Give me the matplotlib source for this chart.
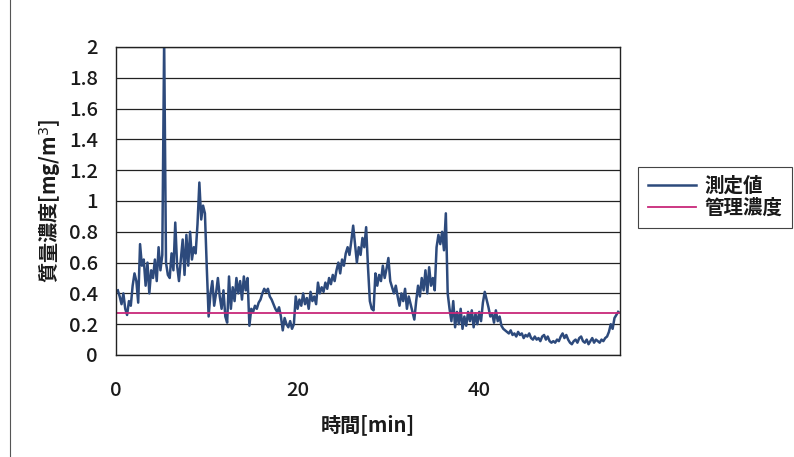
import numpy as np
import matplotlib
matplotlib.use('Agg')
import matplotlib.pyplot as plt
from matplotlib.lines import Line2D

plt.rcParams['font.family'] = ['Noto Sans CJK JP', 'DejaVu Sans']

conc = [
    0.42, 0.38, 0.33, 0.40, 0.30,
    0.26, 0.35, 0.32, 0.45, 0.53,
    0.48, 0.34, 0.72, 0.58, 0.62,
    0.45, 0.60, 0.40, 0.55, 0.50,
    0.62, 0.48, 0.70, 0.55, 0.65,
    2.05, 0.60, 0.52, 0.50, 0.66,
    0.55, 0.86, 0.58, 0.48, 0.62,
    0.75, 0.52, 0.78, 0.58, 0.80,
    0.62, 0.70, 0.66, 0.85, 1.12,
    0.88, 0.97, 0.92, 0.57, 0.25,
    0.40, 0.48, 0.32, 0.40, 0.50,
    0.38, 0.30, 0.42, 0.25, 0.21,
    0.51, 0.30, 0.44, 0.35, 0.50,
    0.40, 0.48, 0.36, 0.51, 0.42,
    0.50, 0.19, 0.30, 0.28, 0.32,
    0.30, 0.34, 0.36, 0.40, 0.43,
    0.41, 0.43, 0.38, 0.36, 0.33,
    0.30, 0.28, 0.31, 0.25, 0.16,
    0.24, 0.20, 0.18, 0.22, 0.17,
    0.20, 0.38, 0.30, 0.36, 0.32,
    0.40, 0.33, 0.37, 0.30, 0.41,
    0.35, 0.38, 0.33, 0.47, 0.40,
    0.44, 0.41, 0.47, 0.43, 0.50,
    0.46, 0.52, 0.48, 0.55, 0.60,
    0.53, 0.62, 0.58, 0.66, 0.70,
    0.65, 0.74, 0.84, 0.72, 0.60,
    0.70, 0.65, 0.76, 0.70, 0.83,
    0.57, 0.35, 0.30, 0.29, 0.53,
    0.45, 0.52, 0.48, 0.58, 0.50,
    0.56, 0.63, 0.48, 0.44, 0.40,
    0.45, 0.38, 0.32, 0.40, 0.35,
    0.43, 0.30, 0.38, 0.33, 0.28,
    0.23, 0.35, 0.45, 0.38, 0.50,
    0.42, 0.55, 0.40, 0.57, 0.45,
    0.50, 0.42, 0.70, 0.78, 0.72,
    0.80, 0.68, 0.92, 0.40, 0.30,
    0.22, 0.35, 0.18, 0.28, 0.20,
    0.30, 0.17, 0.25, 0.19, 0.28,
    0.22, 0.29, 0.18, 0.27, 0.20,
    0.28, 0.22, 0.34, 0.41, 0.36,
    0.31, 0.25, 0.27, 0.21, 0.29,
    0.22, 0.25, 0.19, 0.17, 0.16,
    0.15, 0.14, 0.16, 0.13, 0.14,
    0.12, 0.15, 0.13, 0.14, 0.11,
    0.13, 0.12, 0.14, 0.11, 0.10,
    0.12, 0.10, 0.11, 0.09, 0.12,
    0.13, 0.10, 0.12, 0.09, 0.08,
    0.09, 0.08, 0.10, 0.09, 0.12,
    0.14, 0.11, 0.13, 0.10, 0.08,
    0.07, 0.09, 0.10, 0.08, 0.11,
    0.12, 0.09, 0.08, 0.10, 0.07,
    0.09, 0.11, 0.08, 0.10, 0.09,
    0.08, 0.10, 0.09, 0.11, 0.12,
    0.15, 0.20, 0.17, 0.24, 0.26,
    0.28,
]
t_start, t_end = 0.2, 55.3  # sampling window [min]
limit_value = 0.27          # control concentration

x_ticks = [0, 20, 40]
y_ticks = [0, 0.2, 0.4, 0.6, 0.8, 1, 1.2, 1.4, 1.6, 1.8, 2]
y_ticklabels = ['0', '0.2', '0.4', '0.6', '0.8', '1', '1.2', '1.4', '1.6', '1.8', '2']

times = np.linspace(t_start, t_end, len(conc))

W, H = 794, 457
fig = plt.figure(figsize=(W / 100, H / 100), dpi=100)
ax = fig.add_axes([116 / W, (H - 355) / H, (620 - 116) / W, (355 - 47) / H])

ax.plot(times, conc, color='#2d4a7c', lw=1.8, label='測定値')
ax.plot([0, 55.5], [limit_value, limit_value], color='#c8287a', lw=1.3, label='管理濃度')

ax.set_xlim(0, 55.5)
ax.set_ylim(0, 2)
ax.set_xticks(x_ticks)
ax.set_yticks(y_ticks)
ax.set_yticklabels(y_ticklabels)
ax.yaxis.grid(True, color='#222222', lw=0.9)
ax.set_axisbelow(True)
ax.tick_params(length=0, labelsize=14.5, colors='#1a1a1a')
for lab in ax.get_xticklabels() + ax.get_yticklabels():
    lab.set_fontweight('medium')
ax.tick_params(axis='y', pad=13)
ax.tick_params(axis='x', pad=19)
for s in ax.spines.values():
    s.set_color('#222222')
    s.set_linewidth(1.0)

ax.set_xlabel('時間[min]', fontsize=14.5, fontweight='bold', labelpad=10, color='#1a1a1a')
ax.set_ylabel('質量濃度[mg/m$^3$]', fontsize=14.5, fontweight='bold', labelpad=4, color='#1a1a1a')

leg = fig.legend(loc='upper left', bbox_to_anchor=(638 / W, (H - 167) / H),
                 borderaxespad=0, fancybox=False, edgecolor='#444444',
                 framealpha=1, prop={'size': 14, 'weight': 'bold'},
                 handlelength=2.5, handletextpad=0.4, labelspacing=0.15,
                 borderpad=0.5)
leg.get_frame().set_linewidth(0.8)
for txt in leg.get_texts():
    txt.set_color('#1a1a1a')

# outer chart-area border on the left of the scan
fig.add_artist(Line2D([10 / W, 10 / W], [0, 1], transform=fig.transFigure,
                      color='#555555', lw=0.8))

fig.savefig('out.png', dpi=100)
